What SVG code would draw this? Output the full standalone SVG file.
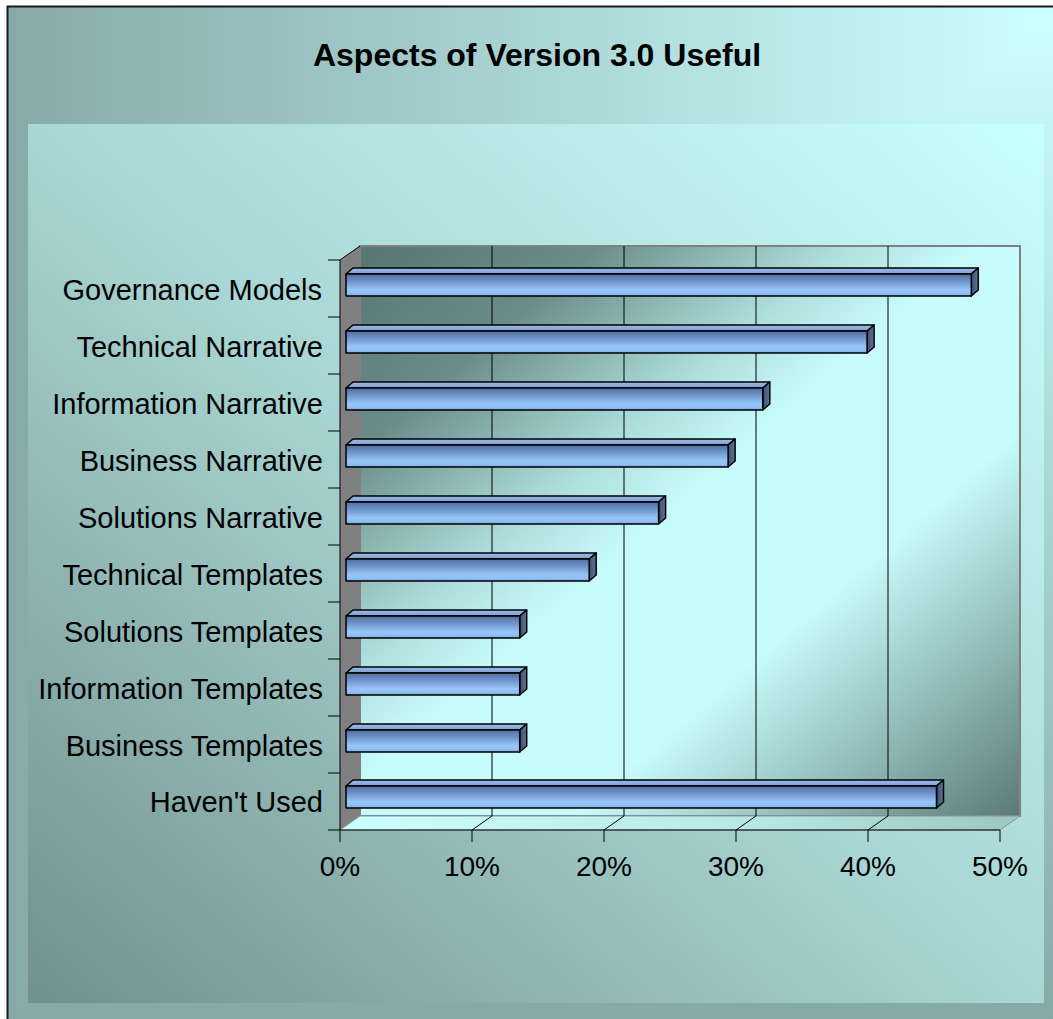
<svg xmlns="http://www.w3.org/2000/svg" width="1053" height="1019" viewBox="0 0 1053 1019">
<defs>
<linearGradient id="outerH" gradientUnits="userSpaceOnUse" x1="7" y1="0" x2="1053" y2="0">
<stop offset="0" stop-color="#86aaa9"/><stop offset="1" stop-color="#ccffff"/>
</linearGradient>
<linearGradient id="outerV" gradientUnits="userSpaceOnUse" x1="0" y1="6" x2="0" y2="1019">
<stop offset="0" stop-color="#ccffff"/><stop offset="1" stop-color="#86a9a8"/>
</linearGradient>
<linearGradient id="inner" x1="1" y1="0" x2="0" y2="1">
<stop offset="0" stop-color="#c8ffff"/><stop offset="0.5" stop-color="#a9d6d4"/><stop offset="1" stop-color="#72908d"/>
</linearGradient>
<linearGradient id="wall" x1="0" y1="0" x2="1" y2="1">
<stop offset="0" stop-color="#567672"/><stop offset="0.18" stop-color="#6b8d8a"/><stop offset="0.36" stop-color="#acdcda"/><stop offset="0.47" stop-color="#c8fcfc"/><stop offset="0.66" stop-color="#c8fcfc"/><stop offset="1" stop-color="#5a7a77"/>
</linearGradient>
<linearGradient id="floor" x1="0" y1="0" x2="1" y2="0">
<stop offset="0" stop-color="#ccffff"/><stop offset="0.6" stop-color="#b8e8e6"/><stop offset="1" stop-color="#9cc6c2"/>
</linearGradient>
<linearGradient id="barFront" x1="0" y1="0" x2="0" y2="1">
<stop offset="0" stop-color="#4f6f9f"/><stop offset="0.3" stop-color="#6d90c4"/><stop offset="0.72" stop-color="#96c6fb"/><stop offset="0.9" stop-color="#8fbdf2"/><stop offset="1" stop-color="#7a9fd6"/>
</linearGradient>
<linearGradient id="barTop" x1="0" y1="0" x2="0" y2="1">
<stop offset="0" stop-color="#9cbcea"/><stop offset="1" stop-color="#7e9fd0"/>
</linearGradient>
<linearGradient id="barEnd" x1="0" y1="0" x2="1" y2="0">
<stop offset="0" stop-color="#3d5272"/><stop offset="1" stop-color="#5d7396"/>
</linearGradient>
<style>
.cat{font-family:"Liberation Sans",Arial,sans-serif;font-size:29px;fill:#000;text-anchor:end}
.pct{font-family:"Liberation Sans",Arial,sans-serif;font-size:28px;fill:#000;text-anchor:middle}
.title{font-family:"Liberation Sans",Arial,sans-serif;font-size:32px;font-weight:bold;fill:#000;text-anchor:middle}
.bf{fill:url(#barFront);stroke:#000;stroke-width:1.5;stroke-linejoin:round}
.bt{fill:url(#barTop);stroke:#000;stroke-width:1.5;stroke-linejoin:round}
.be{fill:url(#barEnd);stroke:#000;stroke-width:1.5;stroke-linejoin:round}
.grid{stroke:#000;stroke-width:1;fill:none}
</style>
</defs>
<rect x="0" y="0" width="1053" height="1019" fill="#ffffff"/>
<rect x="7" y="6" width="1046" height="1013" fill="url(#outerH)"/>
<polygon points="1053,6 1053,1019 7,1019" fill="url(#outerV)"/>
<path d="M7.5,1019 V6.5 H1053" fill="none" stroke="#1a1a1a" stroke-width="2"/>
<rect x="28" y="124" width="1016" height="879" fill="url(#inner)"/>
<text class="title" x="537" y="66">Aspects of Version 3.0 Useful</text>

<g id="plot">
<rect x="360" y="246" width="660" height="570" fill="url(#wall)" stroke="#808080" stroke-width="2"/>
<polygon points="340,260 360,246 360,816 340,830" fill="#808080"/>
<polygon points="340,830 360,816 1020,816 1000,830" fill="url(#floor)" stroke="#8a9a98" stroke-width="1"/>
<g class="grid">
<path d="M492,246 V816 L472,830 M624,246 V816 L604,830 M756,246 V816 L736,830 M888,246 V816 L868,830"/>
<path d="M340,260 L360,246"/>
<path d="M340,260 V842 M340,830 H1000"/>
<path d="M472,830 V842 M604,830 V842 M736,830 V842 M868,830 V842 M1000,830 V842"/>
<path d="M328,260 H340 M328,317 H340 M328,374 H340 M328,431 H340 M328,488 H340 M328,545 H340 M328,602 H340 M328,659 H340 M328,716 H340 M328,773 H340 M328,830 H340"/>
</g>
</g>

<g id="connectors"></g>

<g id="bar-governance-models">
<polygon class="bt" points="346,274 353,268 978.3,268 971.3,274"/>
<polygon class="be" points="971.3,274 978.3,268 978.3,290 971.3,296"/>
<rect class="bf" x="346" y="274" width="625.3" height="22"/>
<text class="cat" x="322" y="300">Governance Models</text>
</g>
<g id="bar-technical-narrative">
<polygon class="bt" points="346,331 353,325 874.1,325 867.1,331"/>
<polygon class="be" points="867.1,331 874.1,325 874.1,347 867.1,353"/>
<rect class="bf" x="346" y="331" width="521.1" height="22"/>
<text class="cat" x="323" y="357">Technical Narrative</text>
</g>
<g id="bar-information-narrative">
<polygon class="bt" points="346,388 353,382 769.8,382 762.8,388"/>
<polygon class="be" points="762.8,388 769.8,382 769.8,404 762.8,410"/>
<rect class="bf" x="346" y="388" width="416.8" height="22"/>
<text class="cat" x="323" y="414">Information Narrative</text>
</g>
<g id="bar-business-narrative">
<polygon class="bt" points="346,445 353,439 735.1,439 728.1,445"/>
<polygon class="be" points="728.1,445 735.1,439 735.1,461 728.1,467"/>
<rect class="bf" x="346" y="445" width="382.1" height="22"/>
<text class="cat" x="323" y="471">Business Narrative</text>
</g>
<g id="bar-solutions-narrative">
<polygon class="bt" points="346,502 353,496 665.6,496 658.6,502"/>
<polygon class="be" points="658.6,502 665.6,496 665.6,518 658.6,524"/>
<rect class="bf" x="346" y="502" width="312.6" height="22"/>
<text class="cat" x="323" y="528">Solutions Narrative</text>
</g>
<g id="bar-technical-templates">
<polygon class="bt" points="346,559 353,553 596.2,553 589.2,559"/>
<polygon class="be" points="589.2,559 596.2,553 596.2,575 589.2,581"/>
<rect class="bf" x="346" y="559" width="243.2" height="22"/>
<text class="cat" x="323" y="585">Technical Templates</text>
</g>
<g id="bar-solutions-templates">
<polygon class="bt" points="346,616 353,610 526.7,610 519.7,616"/>
<polygon class="be" points="519.7,616 526.7,610 526.7,632 519.7,638"/>
<rect class="bf" x="346" y="616" width="173.7" height="22"/>
<text class="cat" x="323" y="642">Solutions Templates</text>
</g>
<g id="bar-information-templates">
<polygon class="bt" points="346,673 353,667 526.7,667 519.7,673"/>
<polygon class="be" points="519.7,673 526.7,667 526.7,689 519.7,695"/>
<rect class="bf" x="346" y="673" width="173.7" height="22"/>
<text class="cat" x="323" y="699">Information Templates</text>
</g>
<g id="bar-business-templates">
<polygon class="bt" points="346,730 353,724 526.7,724 519.7,730"/>
<polygon class="be" points="519.7,730 526.7,724 526.7,746 519.7,752"/>
<rect class="bf" x="346" y="730" width="173.7" height="22"/>
<text class="cat" x="323" y="756">Business Templates</text>
</g>
<g id="bar-havent-used">
<polygon class="bt" points="346,786 353,780 943.5,780 936.5,786"/>
<polygon class="be" points="936.5,786 943.5,780 943.5,802 936.5,808"/>
<rect class="bf" x="346" y="786" width="590.5" height="22"/>
<text class="cat" x="323" y="812">Haven't Used</text>
</g>

<g id="x-axis-labels">
<text class="pct" x="340" y="876">0%</text>
<text class="pct" x="472" y="876">10%</text>
<text class="pct" x="604" y="876">20%</text>
<text class="pct" x="736" y="876">30%</text>
<text class="pct" x="868" y="876">40%</text>
<text class="pct" x="1000" y="876">50%</text>
</g>
</svg>
